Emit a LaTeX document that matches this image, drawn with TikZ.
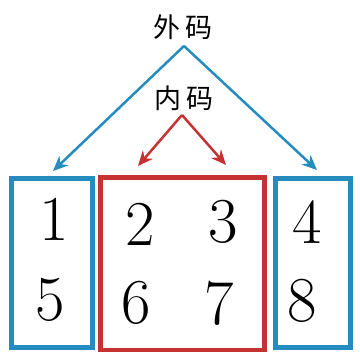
\documentclass[tikz,border=0pt]{standalone}
\usepackage{fontspec}
\newfontfamily\cjk{Noto Sans CJK SC}
\usetikzlibrary{arrows.meta}
\definecolor{cblue}{RGB}{36,140,190}
\definecolor{cred}{RGB}{196,50,50}
\begin{document}
\begin{tikzpicture}[x=1pt,y=-1pt,
  box/.style={line width=4.5pt},
  digit/.style={font=\fontsize{64}{64}\selectfont,inner sep=0pt},
  lab/.style={font=\cjk\fontsize{27}{27}\selectfont,inner sep=0pt},
  arr/.style={line width=2.5pt,-{Stealth[length=15pt,width=13pt]}}]
\useasboundingbox (0,0) rectangle (360,360);
\draw[box,cblue] (11.5,178.5) rectangle (92.5,347.5);
\draw[box,cblue] (275.5,178.5) rectangle (350.5,347.5);
\draw[box,cred] (100.5,177.5) rectangle (264.5,350);
\node[lab] (outer) at (183,27) {外\,码};
\node[lab] (inner) at (184,98) {内\,码};
\coordinate (oa) at (184,46);
\coordinate (ol) at (53,171);
\coordinate (or) at (317,170);
\coordinate (ia) at (182,115);
\coordinate (il) at (138,166);
\coordinate (ir) at (226,165);
\draw[arr,cblue] (oa) -- (ol);
\draw[arr,cblue] (oa) -- (or);
\draw[arr,cred] (ia) -- (il);
\draw[arr,cred] (ia) -- (ir);
\node[digit] (d1) at (54,219) {1};
\node[digit] (d5) at (50,300) {5};
\node[digit] (d2) at (140,224) {2};
\node[digit] (d3) at (223,222) {3};
\node[digit] (d6) at (136,303) {6};
\node[digit] (d7) at (219,303) {7};
\node[digit] (d4) at (307,222) {4};
\node[digit] (d8) at (302,301) {8};
\end{tikzpicture}
\end{document}
